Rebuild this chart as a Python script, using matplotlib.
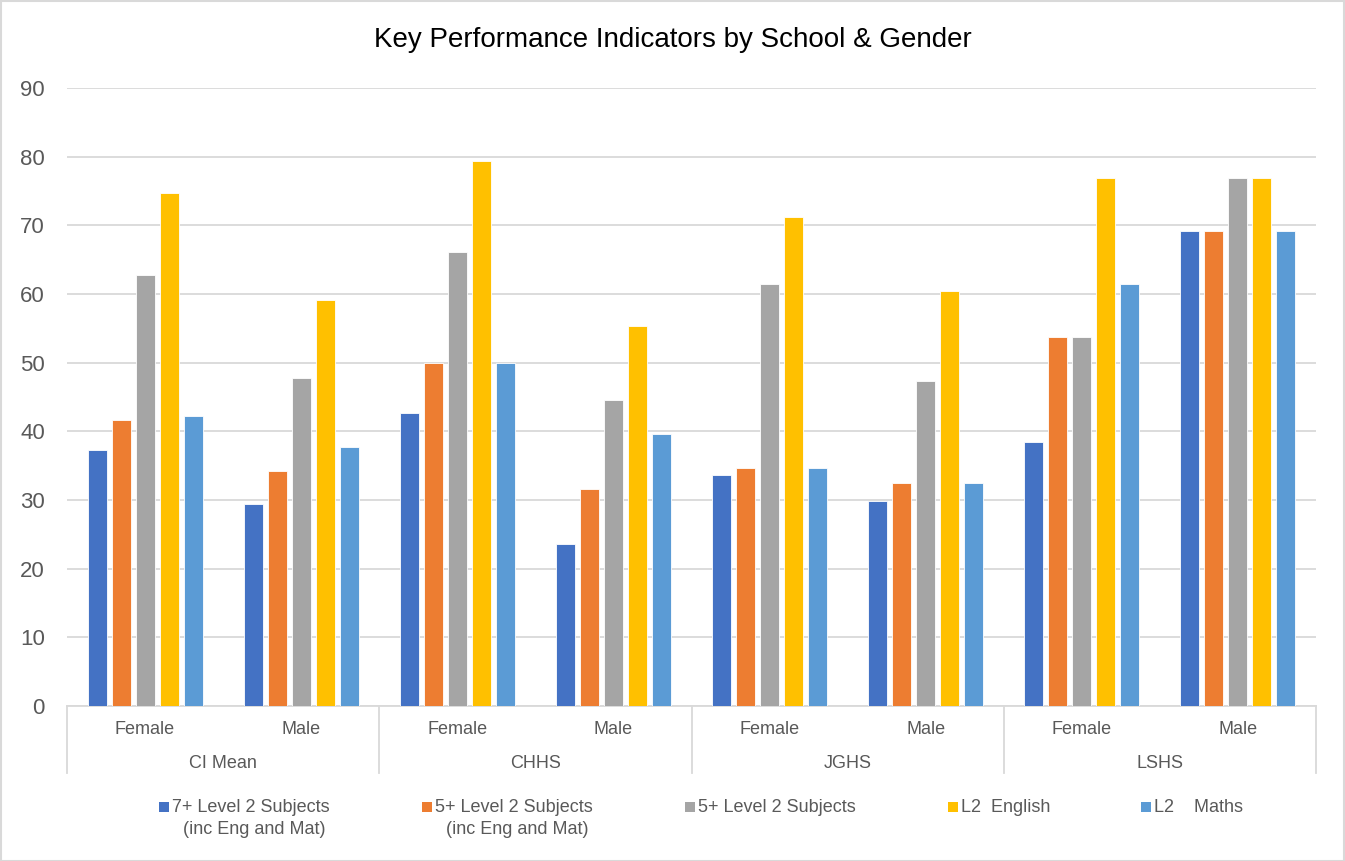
import matplotlib
matplotlib.use("Agg")
import matplotlib.pyplot as plt
from matplotlib.patches import Rectangle
import numpy as np

plt.rcParams['font.family'] = ['Liberation Sans', 'DejaVu Sans']

schools = ["CI Mean", "CHHS", "JGHS", "LSHS"]
genders = ["Female", "Male"]
series_names = ["7+ Level 2 Subjects\n(inc Eng and Mat)",
                "5+ Level 2 Subjects\n(inc Eng and Mat)",
                "5+ Level 2 Subjects",
                "L2  English",
                "L2    Maths"]
colors = ["#4472C4", "#ED7D31", "#A5A5A5", "#FFC000", "#5B9BD5"]

# order: CI Mean F, CI Mean M, CHHS F, CHHS M, JGHS F, JGHS M, LSHS F, LSHS M
s_7plus = [37.3, 29.4, 42.7, 23.6, 33.7, 29.9, 38.5, 69.2]
s_5plus_em = [41.7, 34.2, 50.0, 31.6, 34.6, 32.5, 53.8, 69.2]
s_5plus = [62.7, 47.7, 66.1, 44.6, 61.5, 47.3, 53.8, 76.9]
s_eng = [74.7, 59.1, 79.4, 55.4, 71.2, 60.4, 76.9, 76.9]
s_maths = [42.2, 37.7, 50.0, 39.6, 34.6, 32.5, 61.5, 69.2]
series = [s_7plus, s_5plus_em, s_5plus, s_eng, s_maths]

W, H = 1345, 861
fig = plt.figure(figsize=(W / 100, H / 100), dpi=100)
fig.patch.set_facecolor("white")

def fx(px):
    return px / W

def fy(py):
    return 1 - py / H

left, right, top, bottom = 67, 1316, 88, 706
ax = fig.add_axes([fx(left), fy(bottom), fx(right) - fx(left), fy(top) - fy(bottom)])

n_cat = len(schools) * len(genders)
x = np.arange(n_cat)
pitch = 24 / 156
bw = 19 / 156
for i, (vals, c) in enumerate(zip(series, colors)):
    ax.bar(x + (i - 2) * pitch, vals, width=bw, color=c, edgecolor="white",
           linewidth=0.6, zorder=3)

ax.set_xlim(-0.5, n_cat - 0.5)
ax.set_ylim(0, 90)
ax.set_yticks(np.arange(0, 91, 10))
ax.grid(axis="y", color="#d9d9d9", linewidth=1.3, zorder=0)
ax.set_axisbelow(True)
for sp in ["top", "right", "left"]:
    ax.spines[sp].set_visible(False)
ax.spines["bottom"].set_color("#d9d9d9")
ax.spines["bottom"].set_linewidth(1.3)
ax.tick_params(axis="y", length=0, labelsize=16, labelcolor="#595959", pad=16)
ax.tick_params(axis="x", length=0)
ax.set_xticks([])

# multi-level category axis
gender_labels = genders * len(schools)
for xi, g in zip(x, gender_labels):
    ax.annotate(g, xy=(xi, 0), xycoords=("data", "axes fraction"),
                xytext=(0, -23), textcoords="offset pixels",
                ha="center", va="center", fontsize=13, color="#595959")
for si, s in enumerate(schools):
    cx = si * 2 + 0.5
    ax.annotate(s, xy=(cx, 0), xycoords=("data", "axes fraction"),
                xytext=(0, -58), textcoords="offset pixels",
                ha="center", va="center", fontsize=13, color="#595959")
for b in range(len(schools) + 1):
    bx = b * 2 - 0.5
    line = plt.Line2D([bx, bx], [0, -67 / (bottom - top)],
                      transform=ax.get_xaxis_transform(), color="#d9d9d9",
                      linewidth=1.3, clip_on=False)
    ax.add_line(line)

# title
fig.text(fx(673), fy(40), "Key Performance Indicators by School & Gender",
         ha="center", va="center", fontsize=20, color="black")

# legend
marker_x = [159, 422, 685, 948, 1141]
for mx, name, c in zip(marker_x, series_names, colors):
    fig.add_artist(Rectangle((fx(mx), fy(812)), fx(10), 10 / H,
                             transform=fig.transFigure, facecolor=c,
                             edgecolor="none"))
    lines = name.split("\n")
    fig.text(fx(mx + 13), fy(807), lines[0], ha="left", va="center",
             fontsize=13, color="#595959")
    if len(lines) > 1:
        fig.text(fx(mx + 13 + 82), fy(829), lines[1], ha="center", va="center",
                 fontsize=13, color="#595959")

# outer border
fig.add_artist(Rectangle((0.5 / W, 0.5 / H), 1 - 1.5 / W, 1 - 1.5 / H,
                         transform=fig.transFigure, facecolor="none",
                         edgecolor="#d9d9d9", linewidth=1.5))

fig.savefig("out.png", dpi=100)
